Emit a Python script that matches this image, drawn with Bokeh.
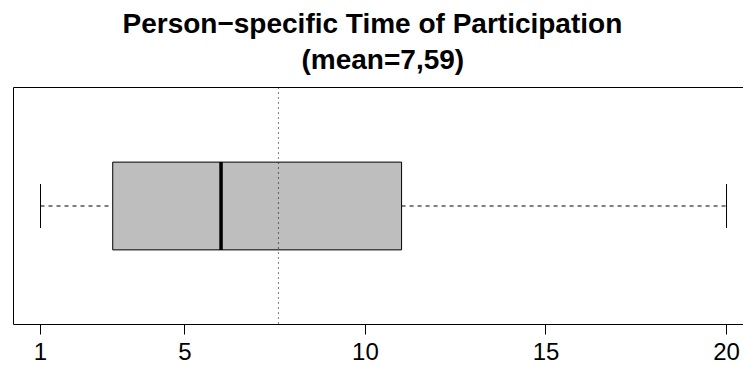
from bokeh.plotting import figure
from bokeh.models import Range1d, FixedTicker, LinearAxis, Span, Title
from bokeh.embed import file_html
from bokeh.resources import INLINE

# ---- data ----
positions = [1]
whisker_low = [1]
q1 = [3]
median = [6]
q3 = [11]
whisker_high = [20]
mean_val = 7.59
x_ticks = [1, 5, 10, 15, 20]
title_lines = ["Person\u2212specific Time of Participation", "(mean=7,59)"]

box_half = 0.2
cap_half = 0.1
FONT = "Liberation Sans"

p = figure(width=743, height=365, output_backend="svg", toolbar_location=None,
           x_range=Range1d(0.252, 20.47), y_range=Range1d(0.46, 1.54),
           min_border_left=13, min_border_right=0, min_border_top=87, min_border_bottom=41)
p.title = None
p.background_fill_color = "white"
p.border_fill_color = "white"
p.outline_line_color = None
p.xgrid.visible = False
p.ygrid.visible = False

lo = [y - box_half for y in positions]
hi = [y + box_half for y in positions]
clo = [y - cap_half for y in positions]
chi = [y + cap_half for y in positions]

# whiskers
p.segment(x0=whisker_low, y0=positions, x1=q1, y1=positions,
          line_color="black", line_width=1, line_dash="4 4")
p.segment(x0=q3, y0=positions, x1=whisker_high, y1=positions,
          line_color="black", line_width=1, line_dash="4 4")
# staples
p.segment(x0=whisker_low, y0=clo, x1=whisker_low, y1=chi, line_color="black", line_width=1)
p.segment(x0=whisker_high, y0=clo, x1=whisker_high, y1=chi, line_color="black", line_width=1)
# box
p.quad(left=q1, right=q3, bottom=lo, top=hi, fill_color="#BEBEBE", line_color="black", line_width=1)
# median
p.segment(x0=median, y0=lo, x1=median, y1=hi, line_color="black", line_width=3.5)

# mean line
p.add_layout(Span(location=mean_val, dimension="height", line_color="black",
                  line_width=1, line_dash="1 4"))

# bottom axis
ax = p.xaxis[0]
ax.ticker = FixedTicker(ticks=x_ticks)
ax.major_label_text_font = FONT
ax.major_label_text_font_size = "24px"
ax.major_label_text_color = "black"
ax.major_tick_out = 10
ax.major_tick_in = 0
ax.minor_tick_out = 0
ax.minor_tick_in = 0
ax.major_label_standoff = 8
ax.axis_line_color = "black"
ax.major_tick_line_color = "black"

# left axis as frame line only
ay = p.yaxis[0]
ay.ticker = FixedTicker(ticks=[])
ay.major_label_text_font_size = "0px"
ay.major_tick_out = 0
ay.major_tick_in = 0
ay.minor_tick_out = 0
ay.minor_tick_in = 0
ay.axis_line_color = "black"

# top frame line
top = LinearAxis(ticker=FixedTicker(ticks=[]), major_label_text_font_size="0px",
                 major_tick_out=0, major_tick_in=0, minor_tick_out=0, minor_tick_in=0,
                 axis_line_color="black")
p.add_layout(top, "above")

# two-line title
t2 = Title(text=title_lines[1], text_font=FONT, text_font_size="28px", text_font_style="bold",
           align="left", text_color="black", standoff=25, offset=288)
t1 = Title(text=title_lines[0], text_font=FONT, text_font_size="28px", text_font_style="bold",
           align="left", text_color="black", standoff=-19, offset=109)
p.add_layout(t2, "above")
p.add_layout(t1, "above")

open("out.html", "w").write(file_html(p, INLINE))
